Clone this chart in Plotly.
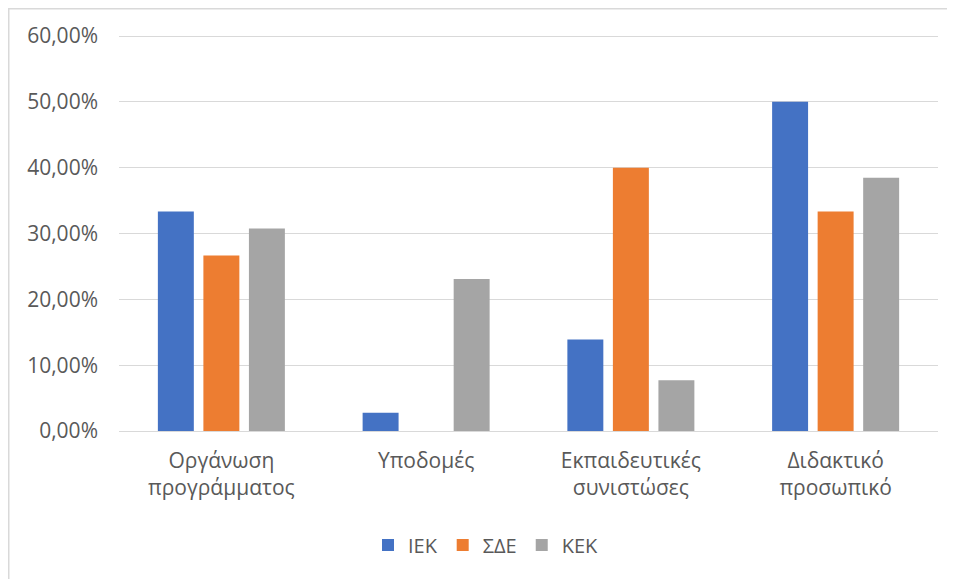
import plotly.graph_objects as go

categories = ["Οργάνωση<br>προγράμματος", "Υποδομές", "Εκπαιδευτικές<br>συνιστώσες", "Διδακτικό<br>προσωπικό"]
series_names = ["ΙΕΚ", "ΣΔΕ", "ΚΕΚ"]
iek = [0.3333, 0.0278, 0.1389, 0.5000]
sde = [0.2667, 0.0000, 0.4000, 0.3333]
kek = [0.3077, 0.2308, 0.0769, 0.3846]
colors = ["#4472C4", "#ED7D31", "#A5A5A5"]
y_ticks = [0, 0.1, 0.2, 0.3, 0.4, 0.5, 0.6]

font_family = "Open Sans, Lato, sans-serif"
text_color = "#595959"

fig = go.Figure()
for name, vals, col in zip(series_names, [iek, sde, kek], colors):
    fig.add_trace(go.Bar(x=categories, y=vals, name=name, marker=dict(color=col, line=dict(width=0))))

# page body has an 8px margin; compensate
OFF = 8
W, H = 955 - OFF, 579 - OFF
B = 148
PH = 397                    # plot height in px
Y_TOP = 0.6 * PH / 395      # so that 60% sits 395px above 0%
L, R, T = 119 - OFF, 17, H - B - PH
pw, ph = W - L - R, PH
x_axis_bottom = 431 - OFF  # in figure coords

def px_to_px(xs):
    return (xs - OFF - L) / pw

def py_to_py(ys):
    return (x_axis_bottom - (ys - OFF)) / ph

fig.update_layout(
    width=W, height=H,
    margin=dict(l=L, r=R, t=T, b=B),
    paper_bgcolor="white", plot_bgcolor="white",
    separators=",.",
    barmode="group", bargap=0.333, bargroupgap=0.21,
    font=dict(family=font_family, size=20, color=text_color),
    showlegend=True,
    legend=dict(orientation="h", x=px_to_px(486), xanchor="center", y=py_to_py(545), yanchor="middle",
                font=dict(size=20, color=text_color), itemwidth=30, traceorder="normal"),
    xaxis=dict(showgrid=False, showline=False, ticks="", ticklabelstandoff=15,
               tickfont=dict(size=21, color=text_color)),
    yaxis=dict(range=[0, Y_TOP], tickvals=y_ticks, tickformat=".2%", showgrid=True,
               gridcolor="#D9D9D9", gridwidth=1, zeroline=True, zerolinecolor="#D9D9D9", zerolinewidth=1,
               showline=False, ticks="", ticklabelstandoff=20,
               tickfont=dict(size=21, color=text_color)),
    shapes=[dict(type="rect", xref="paper", yref="paper",
                 x0=px_to_px(8.75), x1=px_to_px(970),
                 y0=py_to_py(600), y1=py_to_py(8.75),
                 line=dict(color="#D9D9D9", width=1.5), fillcolor="rgba(0,0,0,0)", layer="below")],
)

fig.write_html("out.html")
